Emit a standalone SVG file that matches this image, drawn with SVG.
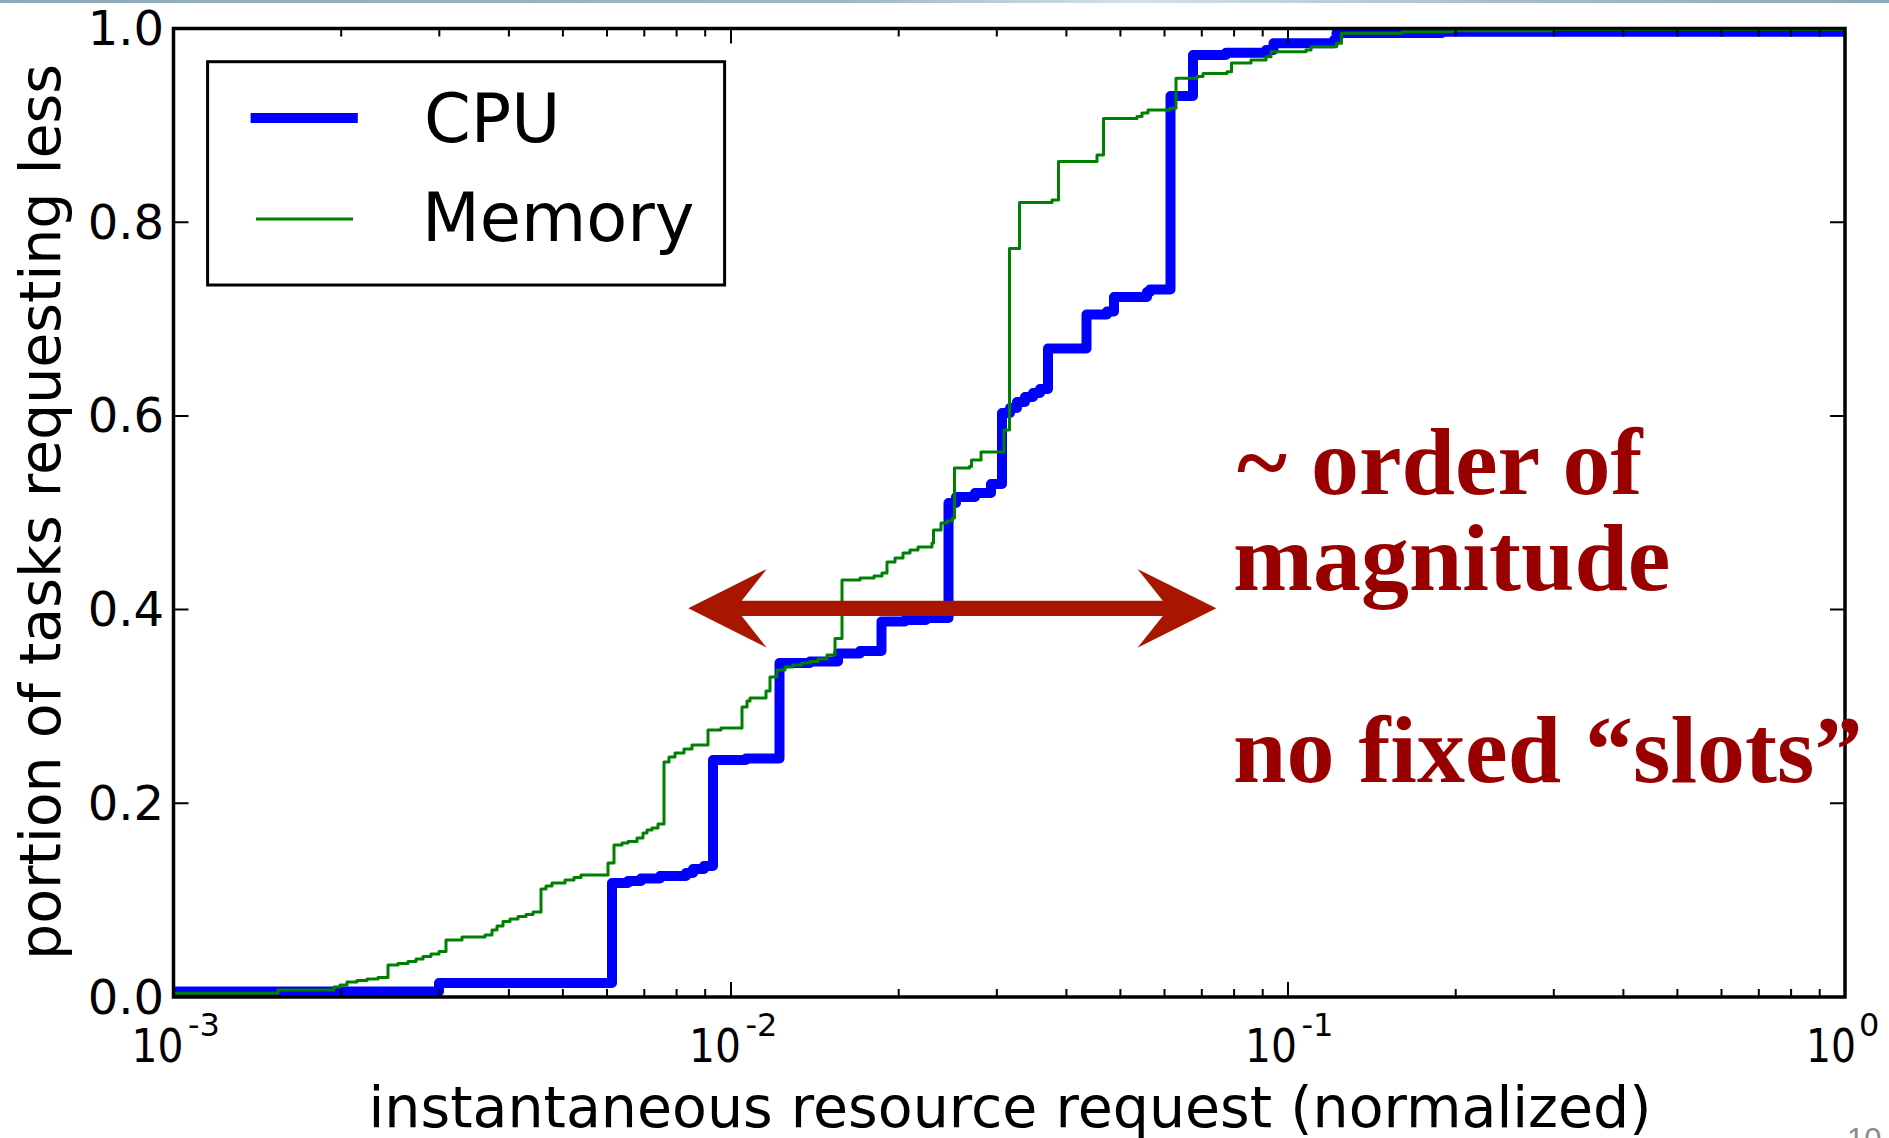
<svg xmlns="http://www.w3.org/2000/svg" width="1889" height="1138" viewBox="0 0 1889 1138">
<defs>
<style>
.mpl{font-family:"DejaVu Sans","Liberation Sans",sans-serif;fill:#000}
.tick{font-size:48px}
.xt{font-size:46px}
.sup{font-size:32px}
.axl{font-size:57px}
.leg{font-size:67px}
.note{font-family:"Liberation Serif","DejaVu Serif",serif;font-weight:bold;font-size:96px;fill:#990000}
.tk{stroke:#000;stroke-width:2;fill:none}
</style>
<linearGradient id="topband" x1="0" y1="0" x2="1" y2="0">
<stop offset="0" stop-color="#8ea9b9"/>
<stop offset="0.45" stop-color="#9fb8c6"/>
<stop offset="0.6" stop-color="#d5e0e6"/>
<stop offset="0.8" stop-color="#a6bccb"/>
<stop offset="1" stop-color="#8ea9b9"/>
</linearGradient>
<clipPath id="plotclip"><rect x="173.5" y="28.5" width="1671.5" height="968.5"/></clipPath>
</defs>
<rect width="1889" height="1138" fill="#fff"/>
<rect x="0" y="0" width="1889" height="3" fill="url(#topband)"/>

<g id="curves" clip-path="url(#plotclip)" fill="none" stroke-linejoin="round">
<path id="cpu" stroke="#0000ff" stroke-width="10" d="M 165 991.5 H 439 V 983 H 612 V 883 H 628 V 881 H 641 V 878.5 H 660 V 876 H 686 V 873 H 693 V 869 H 704 V 866 H 713 V 760 H 746 V 758.5 H 779.5 V 663 H 810 V 661.5 H 838 V 653.5 H 860 V 651 H 881.5 V 621.5 H 905 V 620 H 926 V 618 H 948.5 V 503 H 956 V 497 H 975 V 493 H 991 V 484 H 1002 V 413 H 1010 V 408 H 1017 V 402 H 1025 V 397 H 1033 V 393 H 1040 V 389 H 1048 V 348.5 H 1086.5 V 314.5 H 1107 V 311.5 H 1114 V 297 H 1147 V 292 H 1150 V 289.5 H 1170.5 V 96 H 1193 V 55 H 1226 V 52.7 H 1266 V 50 H 1273.5 V 43.3 H 1334 V 40 H 1336.5 V 33 H 1442 V 31.7 H 1855"/>
<path id="mem" stroke="#008000" stroke-width="3" d="M 165 993.3 H 278 V 990 H 334 V 987 H 340 V 985 H 347 V 982 H 357 V 980.5 H 367 V 979 H 378 V 977.5 H 388 V 976 V 965 H 398 V 963.5 H 408 V 961.5 H 416 V 959 H 423 V 956.5 H 431 V 954 H 439 V 951.5 H 446 V 940 H 462 V 937 H 485 V 935 H 492 V 930 H 497 V 926 H 503 V 921.5 H 510 V 919 H 518 V 916.5 H 526 V 914.5 H 533 V 912 H 541 V 910 V 889 H 546 V 886 H 552 V 883 H 565 V 880 H 574 V 877.5 H 581 V 875 H 608 V 863 H 614 V 845 H 622 V 843 H 628 V 841.5 H 637 V 838 H 643 V 833 H 647 V 830 H 652 V 828 H 658 V 824 H 664 V 820 V 762 H 669 V 757 H 675 V 753 H 684 V 749 H 692 V 745 H 708 V 730 H 721 V 728 H 742 V 707 H 747 V 701 H 750 V 698 H 766 V 691 H 770 V 677 H 777 V 670 H 785 V 667 H 793 V 665 H 802 V 663 H 810 V 661.5 H 818 V 659 H 827 V 655 H 835 V 651.5 V 638.5 H 842 V 580 H 860 V 578 H 874 V 576 H 882 V 573 H 887 V 562 H 895 V 558 H 903 V 553 H 910 V 550 H 918 V 547 H 932 V 543 H 933.5 V 530 H 941 V 523 H 947 V 521 H 952.5 V 518 H 954.5 V 468 H 969.5 V 466.5 H 971.5 V 460 H 981 V 452 H 1004 V 450.5 V 430 H 1009.5 V 428 V 248.5 H 1019.5 V 202.5 H 1052 V 200 H 1058.5 V 161.5 H 1097 V 155 H 1103.5 V 118.5 H 1137 V 116.5 H 1142 V 113 H 1148 V 110 H 1170 V 108.3 H 1176 V 78.3 H 1197 V 76.5 H 1203 V 73.5 H 1227 V 71.7 H 1231.5 V 63 H 1251 V 60 H 1266 V 56.7 H 1271 V 51.7 H 1306 V 50 H 1311 V 46.7 H 1336.5 V 43.3 H 1341.5 V 33.3 H 1402 V 31.7 H 1452 V 30.7 H 1553 V 29.5 H 1855"/>
</g>

<g id="axes">
<path class="tk" d="M 173.5 997 v -15 M 731 997 v -15 M 1288 997 v -15 M 1845 997 v -15 M 173.5 28.5 v 15 M 731 28.5 v 15 M 1288 28.5 v 15 M 1845 28.5 v 15"/>
<path class="tk" d="M 341.2 997 v -8 M 439.3 997 v -8 M 508.9 997 v -8 M 562.9 997 v -8 M 607 997 v -8 M 644.3 997 v -8 M 676.6 997 v -8 M 705.2 997 v -8 M 898.7 997 v -8 M 996.8 997 v -8 M 1066.4 997 v -8 M 1120.4 997 v -8 M 1164.5 997 v -8 M 1201.8 997 v -8 M 1234.1 997 v -8 M 1262.7 997 v -8 M 1455.7 997 v -8 M 1553.8 997 v -8 M 1623.4 997 v -8 M 1677.4 997 v -8 M 1721.5 997 v -8 M 1758.8 997 v -8 M 1791.1 997 v -8 M 1819.7 997 v -8 M 341.2 28.5 v 8 M 439.3 28.5 v 8 M 508.9 28.5 v 8 M 562.9 28.5 v 8 M 607 28.5 v 8 M 644.3 28.5 v 8 M 676.6 28.5 v 8 M 705.2 28.5 v 8 M 898.7 28.5 v 8 M 996.8 28.5 v 8 M 1066.4 28.5 v 8 M 1120.4 28.5 v 8 M 1164.5 28.5 v 8 M 1201.8 28.5 v 8 M 1234.1 28.5 v 8 M 1262.7 28.5 v 8 M 1455.7 28.5 v 8 M 1553.8 28.5 v 8 M 1623.4 28.5 v 8 M 1677.4 28.5 v 8 M 1721.5 28.5 v 8 M 1758.8 28.5 v 8 M 1791.1 28.5 v 8 M 1819.7 28.5 v 8"/>
<path class="tk" d="M 173.5 803.3 h 15 M 173.5 609.6 h 15 M 173.5 415.9 h 15 M 173.5 222.2 h 15 M 1845 803.3 h -15 M 1845 609.6 h -15 M 1845 415.9 h -15 M 1845 222.2 h -15"/>
<rect x="173.5" y="28.5" width="1671.5" height="968.5" fill="none" stroke="#000" stroke-width="3.5"/>
<g class="mpl tick" text-anchor="end">
<text x="164" y="1013.5">0.0</text>
<text x="164" y="819.8">0.2</text>
<text x="164" y="626.1">0.4</text>
<text x="164" y="432.4">0.6</text>
<text x="164" y="238.7">0.8</text>
<text x="164" y="45">1.0</text>
</g>
<g class="mpl">
<text class="xt" x="131.5" y="1062" textLength="52" lengthAdjust="spacingAndGlyphs">10</text>
<text class="sup" x="188" y="1036">-3</text>
<text class="xt" x="689" y="1062" textLength="52" lengthAdjust="spacingAndGlyphs">10</text>
<text class="sup" x="745.5" y="1036">-2</text>
<text class="xt" x="1245" y="1062" textLength="52" lengthAdjust="spacingAndGlyphs">10</text>
<text class="sup" x="1301.5" y="1036">-1</text>
<text class="xt" x="1806" y="1062" textLength="50" lengthAdjust="spacingAndGlyphs">10</text>
<text class="sup" x="1859" y="1036">0</text>
</g>
<text class="mpl axl" x="1010" y="1127" text-anchor="middle">instantaneous resource request (normalized)</text>
<text class="mpl axl" transform="translate(60 512) rotate(-90)" text-anchor="middle">portion of tasks requesting less</text>
</g>

<g id="legend">
<rect x="207.6" y="61.7" width="517" height="223.3" fill="#fff" stroke="#000" stroke-width="3"/>
<line x1="250.6" y1="118" x2="357.8" y2="118" stroke="#0000ff" stroke-width="10"/>
<line x1="256" y1="219" x2="353" y2="219" stroke="#008000" stroke-width="3"/>
<text class="mpl leg" x="424" y="142">CPU</text>
<text class="mpl leg" x="422" y="241">Memory</text>
</g>

<g id="arrow">
<polygon fill="#a81600" points="688.3,608.3 766.7,569 741.7,600.7 1162.8,600.7 1137.5,569 1216.4,608.3 1137.5,647.7 1162.8,616 741.7,616 766.7,647.7"/>
</g>

<g id="notes">
<text class="note" x="1237" y="494">~ order of</text>
<text class="note" x="1233" y="590">magnitude</text>
<text class="note" x="1233" y="782">no fixed “slots”</text>
</g>

<text x="1847" y="1150" font-family="Liberation Sans, Arial, sans-serif" font-size="31" fill="#8a8a8a">10</text>
</svg>
